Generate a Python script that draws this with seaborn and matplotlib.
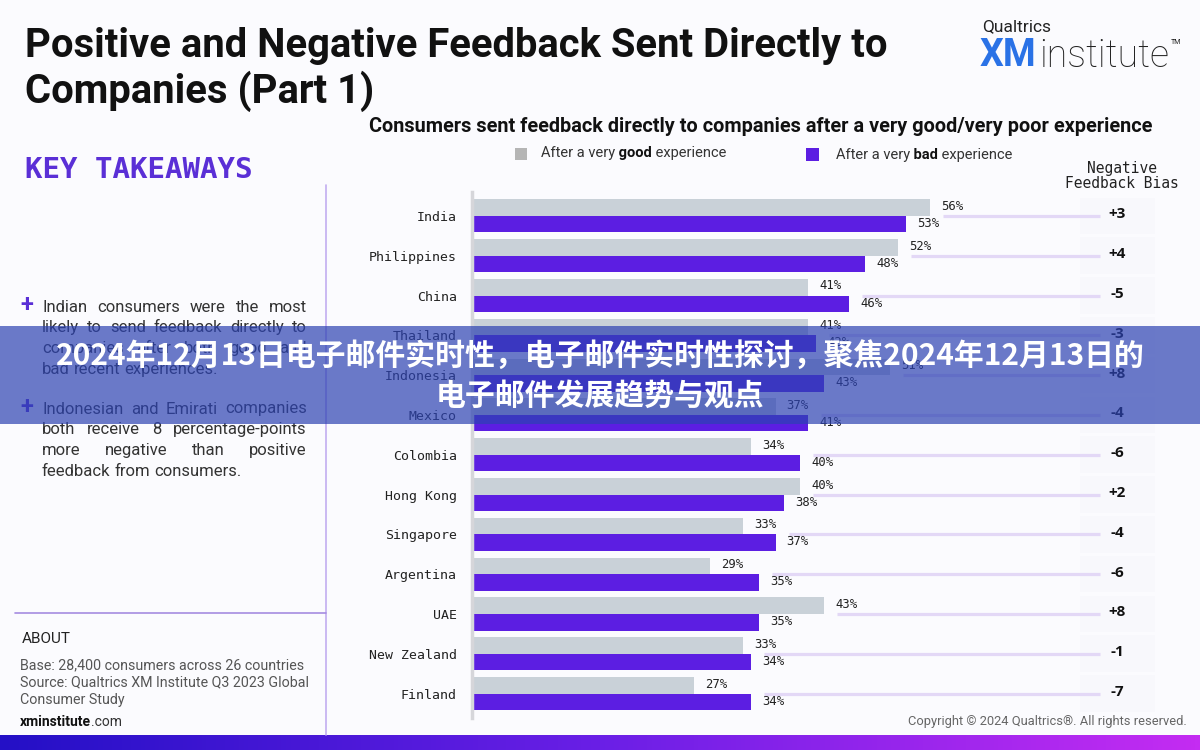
import numpy as np
import pandas as pd
import matplotlib
matplotlib.use("Agg")
import matplotlib.pyplot as plt
import seaborn as sns
from matplotlib.patches import Rectangle
from matplotlib.colors import LinearSegmentedColormap

# ---------------- data ----------------
countries = ["India", "Philippines", "China", "Thailand", "Indonesia", "Mexico",
             "Colombia", "Hong Kong", "Singapore", "Argentina", "UAE",
             "New Zealand", "Finland"]
good = [56, 52, 41, 41, 51, 37, 34, 40, 33, 29, 43, 33, 27]
bad = [53, 48, 46, 42, 43, 41, 40, 38, 37, 35, 35, 34, 34]
bias = ["+3", "+4", "-5", "-3", "+8", "-4", "-6", "+2", "-4", "-6", "+8", "-1", "-7"]
series = ["After a very good experience", "After a very bad experience"]

title_lines = ["Positive and Negative Feedback Sent Directly to", "Companies (Part 1)"]
subtitle = "Consumers sent feedback directly to companies after a very good/very poor experience"
bullet1 = ["Indian consumers were the most", "likely to send feedback directly to",
           "companies after both good and", "bad recent experiences."]
bullet2 = ["Indonesian and Emirati companies", "both receive 8 percentage-points",
           "more negative than positive", "feedback from consumers."]
about_lines = ["Base: 28,400 consumers across 26 countries",
               "Source: Qualtrics XM Institute Q3 2023 Global",
               "Consumer Study"]
banner_lines = ["2024年12月13日电子邮件实时性，电子邮件实时性探讨，聚焦2024年12月13日的",
                "电子邮件发展趋势与观点"]

# ---------------- style ----------------
BG = "#fbfbfe"
GRAY = "#c9d1d8"
PURPLE = "#5c1ee2"
LAV = "#e3d8f6"
KEYPURPLE = "#5a2fd6"
MONO = ["DejaVu Sans Mono"]

sns.set_theme(style="white")
plt.rcParams["font.family"] = ["Roboto", "DejaVu Sans"]

W, H = 1200, 750
fig = plt.figure(figsize=(12, 7.5), dpi=100, facecolor=BG)
R = fig.canvas.get_renderer()


def fx(px):
    return px / W


def fy(py):
    return 1 - py / H


# ---------------- main bar chart ----------------
PX_PER = 8.15
x0_px, x1_px = 474, 1100
top_px, bot_px = 192, 717.5
ax = fig.add_axes([fx(x0_px), fy(bot_px), (x1_px - x0_px) / W, (bot_px - top_px) / H])
ax.set_facecolor(BG)

df = pd.DataFrame({
    "country": countries * 2,
    "value": good + bad,
    "series": [series[0]] * len(countries) + [series[1]] * len(countries),
})
sns.barplot(data=df, y="country", x="value", hue="series", orient="h",
            palette=[GRAY, PURPLE], width=0.83, saturation=1, linewidth=0,
            legend=False, ax=ax, order=countries, hue_order=series)

xmax = (x1_px - x0_px) / PX_PER
ax.set_xlim(0, xmax)
ax.set_ylim(len(countries) - 0.4, -0.6)
ax.set_xlabel("")
ax.set_ylabel("")
ax.set_xticks([])
for s in ["top", "right", "bottom"]:
    ax.spines[s].set_visible(False)
ax.spines["left"].set_color("#d6d6da")
ax.spines["left"].set_linewidth(2.5)
ax.spines["left"].set_position(("outward", 1.5))
ax.tick_params(axis="y", length=0, pad=11)
for lab in ax.get_yticklabels():
    lab.set_fontfamily(MONO)
    lab.set_fontsize(9.5)
    lab.set_color("#222222")

for i, (g, b) in enumerate(zip(good, bad)):
    ax.annotate(f"{g}%", (g, i - 0.24), xytext=(8, 0), textcoords="offset points",
                va="center", ha="left", fontsize=8.8, family=MONO, color="#222222")
    ax.annotate(f"{b}%", (b, i + 0.19), xytext=(8, 0), textcoords="offset points",
                va="center", ha="left", fontsize=8.8, family=MONO, color="#222222")
    ax.plot([max(g, b) + 1.6, xmax], [i, i], color=LAV, lw=2.3,
            solid_capstyle="butt", clip_on=False, zorder=0.5)

trans = ax.get_yaxis_transform()
bx0 = (1080 - x0_px) / (x1_px - x0_px)
bx1 = (1155 - x0_px) / (x1_px - x0_px)
for i, v in enumerate(bias):
    ax.add_patch(Rectangle((bx0, i - 0.46), bx1 - bx0, 0.92, transform=trans,
                           facecolor="#f8f8fc", edgecolor="none", clip_on=False, zorder=0.2))
    ax.text((1117 - x0_px) / (x1_px - x0_px), i - 0.04, v, transform=trans, ha="center",
            va="center", fontsize=11, fontweight="bold", color="#111111",
            family=["Open Sans", "DejaVu Sans"], clip_on=False)

fig.text(fx(1122), fy(176), "Negative\nFeedback Bias", ha="center", va="center",
         family=MONO, fontsize=10.5, color="#222222", linespacing=1.05)

# ---------------- helpers ----------------

def rich(x, y, runs):
    cx = x
    for s, props in runs:
        t = fig.text(fx(cx), fy(y), s, ha="left", va="center", **props)
        cx += t.get_window_extent(renderer=R).width
    return cx


def justify(xa, xb, y, line, last, **props):
    words = line.split()
    ts = [fig.text(0, 0, w, ha="left", va="center", **props) for w in words]
    ws = [t.get_window_extent(renderer=R).width for t in ts]
    sp = fig.text(0, 0, "a a", **props)
    sp2 = fig.text(0, 0, "aa", **props)
    space = sp.get_window_extent(renderer=R).width - sp2.get_window_extent(renderer=R).width
    sp.remove()
    sp2.remove()
    if last or len(words) < 2:
        gap = space
    else:
        gap = (xb - xa - sum(ws)) / (len(words) - 1)
    cx = xa
    for t, w in zip(ts, ws):
        t.set_position((fx(cx), fy(y)))
        cx += w + gap


# ---------------- titles ----------------
fig.text(fx(25), fy(46), title_lines[0], ha="left", va="center", fontsize=28.8,
         fontweight="bold", color="#111111")
fig.text(fx(25), fy(91), title_lines[1], ha="left", va="center", fontsize=28.8,
         fontweight="bold", color="#111111")

fig.text(fx(761), fy(127), subtitle, ha="center", va="center", fontsize=14.3,
         fontweight="bold", color="#111111")

# legend
lprops = dict(fontsize=10.5, color="#333333")
rich(541, 153, [("After a very", lprops),
                (" good", dict(fontsize=10.5, color="#111111", fontweight="bold")),
                (" experience", lprops)])
fig.patches.append(Rectangle((fx(515), fy(160)), 12 / W, 12 / H, transform=fig.transFigure,
                             facecolor="#b5b5b5", edgecolor="none"))
fig.patches.append(Rectangle((fx(806), fy(161)), 13 / W, 13 / H, transform=fig.transFigure,
                             facecolor=PURPLE, edgecolor="none"))
rich(836, 155, [("After a very", lprops),
                (" bad", dict(fontsize=10.5, color="#111111", fontweight="bold")),
                (" experience", lprops)])

# logo
fig.text(fx(982), fy(27), "Qualtrics", ha="left", va="center", fontsize=12.5, color="#222222")
xe = rich(980, 55, [("XM", dict(fontsize=27, fontweight="bold", color="#2a72e6"))])
xe = rich(xe + 3, 56, [("institute", dict(fontsize=27, fontweight="light", color="#222222"))])
fig.text(fx(xe + 1), fy(42), "TM", ha="left", va="center", fontsize=5, color="#222222")

# ---------------- left panel ----------------
fig.text(fx(25), fy(170), "KEY TAKEAWAYS", ha="left", va="center", fontsize=21,
         fontweight="bold", family=MONO, color=KEYPURPLE)

fig.add_artist(plt.Line2D([fx(326), fx(326)], [fy(185), fy(735)], color="#c2aef0",
                          lw=1.2, transform=fig.transFigure))
fig.add_artist(plt.Line2D([fx(15), fx(326)], [fy(613), fy(613)], color="#a58ce0",
                          lw=1.2, transform=fig.transFigure))

bprops = dict(fontsize=12, color="#333333")
for k, (lines, y0) in enumerate([(bullet1, 307), (bullet2, 409)]):
    fig.text(fx(27), fy(y0 - 2), "+", ha="center", va="center", fontsize=17,
             color=KEYPURPLE, fontweight="bold")
    for j, ln in enumerate(lines):
        justify(42, 307, y0 + j * 20.8, ln, j == len(lines) - 1, **bprops)

fig.text(fx(22), fy(639), "ABOUT", ha="left", va="center", fontsize=11, color="#222222")
for j, ln in enumerate(about_lines):
    fig.text(fx(20), fy(665 + j * 17.5), ln, ha="left", va="center", fontsize=10.3,
             color="#555555")
rich(20, 722, [("xminstitute", dict(fontsize=10, fontweight="bold", color="#111111")),
               (".com", dict(fontsize=10, color="#333333"))])

fig.text(fx(1187), fy(721), "Copyright © 2024 Qualtrics®. All rights reserved.",
         ha="right", va="center", fontsize=9.3, color="#666666")

# ---------------- bottom gradient ----------------
gax = fig.add_axes([0, 0, 1, 15 / H])
cmap = LinearSegmentedColormap.from_list("g", ["#2410c6", "#6a1fe6", "#c42cf2"])
gax.imshow(np.linspace(0, 1, 256)[None, :], aspect="auto", cmap=cmap,
           extent=[0, 1, 0, 1])
gax.axis("off")

# ---------------- overlay banner ----------------
fig.patches.append(Rectangle((0, fy(424)), 1, (424 - 326) / H, transform=fig.transFigure,
                             facecolor="#2c42b2", alpha=0.7, edgecolor="none", zorder=10))
fig.text(0.5, fy(356), banner_lines[0], ha="center", va="center", fontsize=21.5,
         fontweight="bold", color="white", zorder=11,
         family=["Noto Sans CJK SC", "DejaVu Sans"])
fig.text(0.5, fy(397), banner_lines[1], ha="center", va="center", fontsize=21.5,
         fontweight="bold", color="white", zorder=11,
         family=["Noto Sans CJK SC", "DejaVu Sans"])

fig.savefig("out.png", dpi=100, facecolor=BG)
